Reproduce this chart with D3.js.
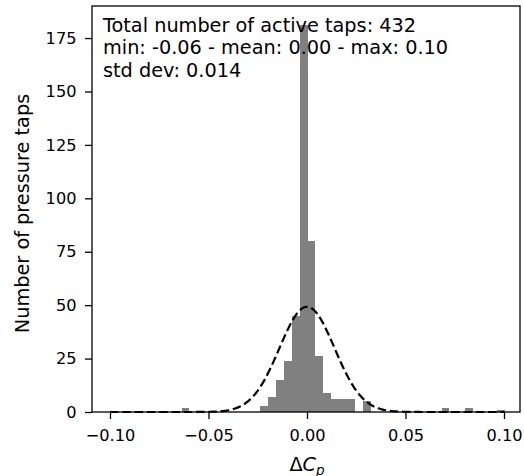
<!DOCTYPE html>
<html><head><meta charset="utf-8">
<script src="https://cdn.jsdelivr.net/npm/d3@7"></script>
<style>body{margin:0;background:#fff}svg{display:block;font-family:"DejaVu Sans",sans-serif}</style>
</head><body>
<svg id="c" width="524" height="476"></svg>
<script>
// Histogram bins (left edge of each bin) and counts
const binWidth = 0.004;
const binLeft = [-0.0637, -0.0237, -0.0197, -0.0157, -0.0117, -0.0077, -0.0037, 0.0003, 0.0043, 0.0083, 0.0123, 0.0163, 0.0203, 0.0283, 0.0683, 0.0803, 0.0963];
const counts  = [2, 3, 7, 15, 24, 45, 181, 80, 26, 9, 6, 6, 6, 5, 2, 2, 1];
// Fitted normal curve parameters
const totalTaps = 432, meanVal = 0.0, stdVal = 0.014;
const curveRange = [-0.1, 0.1];
const xTicks = [-0.10, -0.05, 0.00, 0.05, 0.10];
const yTicks = [0, 25, 50, 75, 100, 125, 150, 175];
const infoLines = ["Total number of active taps: 432", "min: -0.06 - mean: 0.00 - max: 0.10", "std dev: 0.014"];

const FS_TICK = 16.2, FS_LABEL = 19.3;
const svg = d3.select("#c");
const L = 92, R = 520, T = 6, B = 412;
const x = d3.scaleLinear().domain([-0.10914, 0.10812]).range([L, R]);
const y = d3.scaleLinear().domain([0, 190]).range([B, T]);

const g = svg.append("g");
g.selectAll("rect.bar").data(binLeft.map((b, i) => ({x0: b, c: counts[i]}))).join("rect")
  .attr("x", d => x(d.x0)).attr("width", d => x(d.x0 + binWidth) - x(d.x0))
  .attr("y", d => y(d.c)).attr("height", d => y(0) - y(d.c))
  .attr("fill", "#808080").attr("shape-rendering", "crispEdges");

// fitted normal curve
const nPts = 200;
const pts = d3.range(nPts + 1).map(i => {
  const xv = curveRange[0] + (curveRange[1] - curveRange[0]) * i / nPts;
  const yv = totalTaps * binWidth / (stdVal * Math.sqrt(2 * Math.PI)) * Math.exp(-0.5 * ((xv - meanVal) / stdVal) ** 2);
  return [xv, yv];
});
g.append("path").attr("d", d3.line().x(d => x(d[0])).y(d => y(d[1]))(pts))
  .attr("fill", "none").attr("stroke", "#000").attr("stroke-width", 2.2)
  .attr("stroke-dasharray", "8.5,3.8");

// axes
const xa = svg.append("g").attr("transform", `translate(0,${B})`)
  .call(d3.axisBottom(x).tickValues(xTicks).tickFormat(d => d3.format(".2f")(d).replace("-", "\u2212")).tickSize(7).tickPadding(10));
const ya = svg.append("g").attr("transform", `translate(${L},0)`)
  .call(d3.axisLeft(y).tickValues(yTicks).tickSize(7).tickPadding(8.5));
[xa, ya].forEach(a => {
  a.select(".domain").remove();
  a.selectAll(".tick line").attr("stroke", "#000").attr("stroke-width", 1.3);
  a.selectAll(".tick text").attr("fill", "#000").style("font-size", FS_TICK + "px").style("font-family", "DejaVu Sans");
});
svg.append("rect").attr("x", L).attr("y", T).attr("width", R - L).attr("height", B - T)
  .attr("fill", "none").attr("stroke", "#000").attr("stroke-width", 1.3);

// info text
const info = svg.append("text").attr("x", 103).attr("y", 31.7).style("font-size", FS_LABEL + "px").attr("fill", "#000");
infoLines.forEach((s, i) => info.append("tspan").attr("x", 103).attr("dy", i === 0 ? 0 : 22.5).text(s));

// axis labels
svg.append("text").attr("transform", `translate(29,213.5) rotate(-90)`)
  .attr("text-anchor", "middle").style("font-size", FS_LABEL + "px").text("Number of pressure taps");
const xl = svg.append("text").attr("x", x(0)).attr("y", 471).attr("text-anchor", "middle").style("font-size", FS_LABEL + "px");
xl.append("tspan").text("\u0394");
xl.append("tspan").style("font-style", "italic").text("C");
xl.append("tspan").style("font-style", "italic").style("font-size", "13.5px").attr("dy", 3.5).text("p");
</script>
</body></html>
